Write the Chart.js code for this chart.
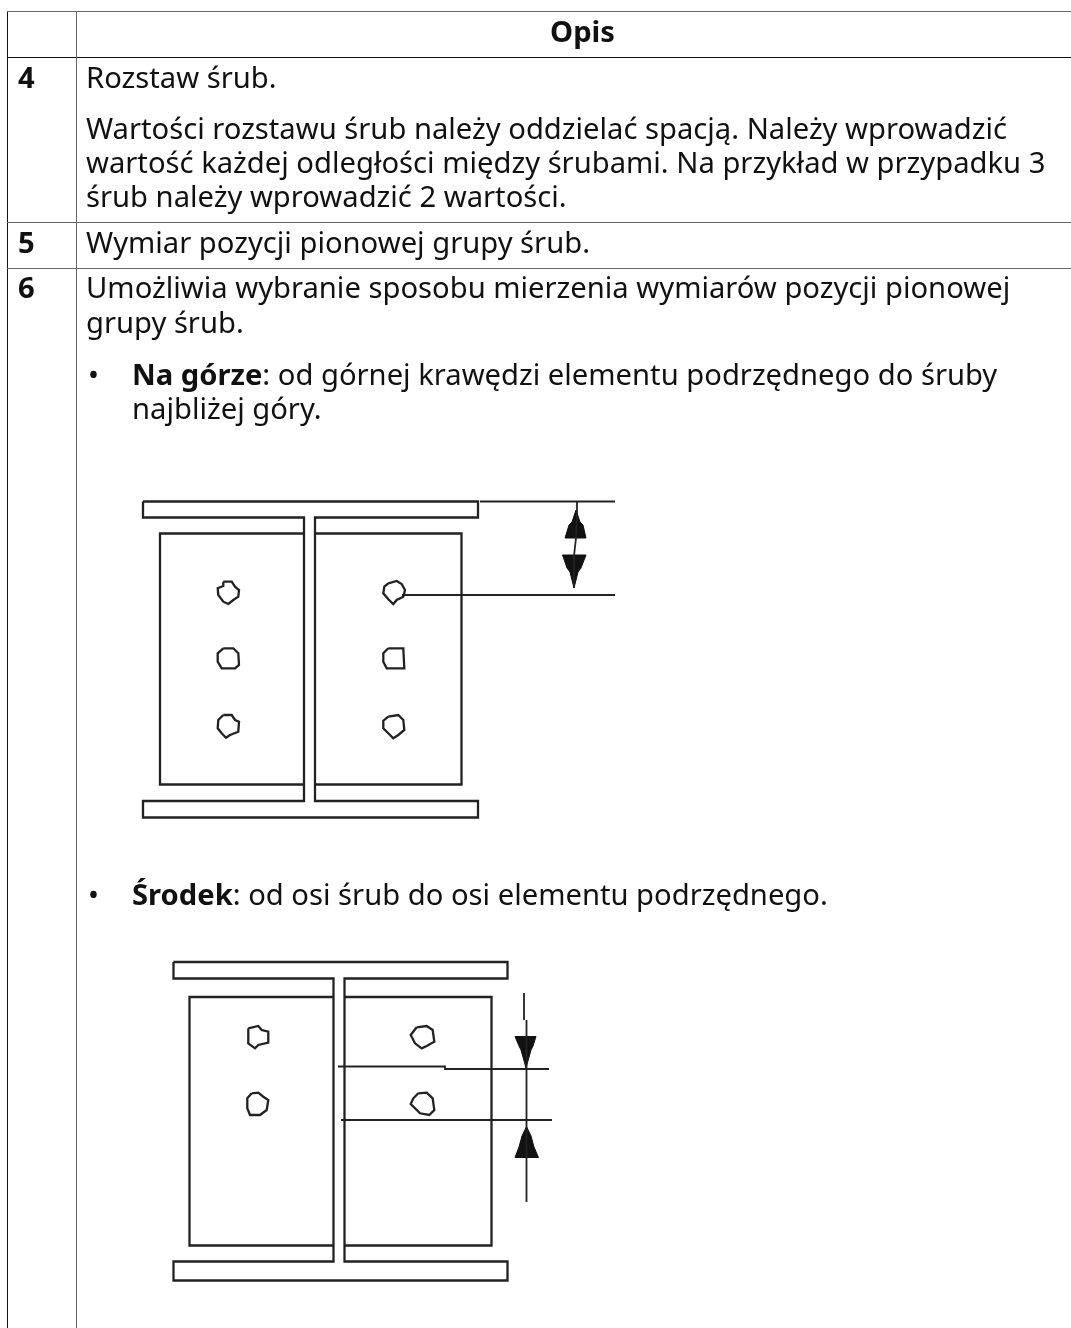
<!DOCTYPE html>
<html lang="pl">
<head>
<meta charset="utf-8">
<title>Opis</title>
<script src="https://cdn.jsdelivr.net/npm/chart.js@4/dist/chart.umd.min.js"></script>
<style>
  html, body { margin: 0; padding: 0; background: #fff; overflow: hidden; }
  canvas { display: block; }
</style>
</head>
<body>
<canvas id="rysunek" width="1071" height="1328"></canvas>
<script>
// --- tabela ---
const gridDark = [
  [[7, 57.5], [1071, 57.5]]
];
const gridGrey = [
  [[7, 11.5], [1071, 11.5]],
  [[7, 222.5], [1071, 222.5]],
  [[7, 268.5], [1071, 268.5]],
  [[76.5, 11.5], [76.5, 1328]]
];
const gridLeft = [[7.5, 11.5], [7.5, 1328]];

// --- rysunek 1 (Na górze) ---
const flangeTop1 = [[143, 501.5], [478, 501.5], [478, 517.5], [315, 517.5], [315, 801], [478, 801], [478, 817.5], [143, 817.5], [143, 801], [304, 801], [304, 517.5], [143, 517.5], [143, 501.5]];
const plateLeft1 = [[304, 533.5], [160, 533.5], [160, 784.5], [304, 784.5]];
const plateRight1 = [[315, 533.5], [461.5, 533.5], [461.5, 784.5], [315, 784.5]];
const dimTop1 = [[480, 501.5], [615, 501.5]];
const dimBottom1 = [[402, 595], [615, 595]];
const dimStem1 = [[577, 501.5], [577, 512], [576, 538], [574, 556], [574, 588]];
const arrowUp1 = [[576, 510], [580, 522], [583, 525], [586, 538], [565, 538], [569, 525], [572, 522], [576, 510]];
const arrowDown1 = [[562.5, 555], [586, 555], [581, 568], [578, 572], [574, 588], [570, 572], [567, 568], [562.5, 555]];
const holes1 = [
  [[223.3, 581.7], [231.7, 581.7], [235, 586.7], [239, 590], [238.3, 596.7], [233.3, 600], [228.3, 604], [223.3, 601.7], [218.3, 595], [217.7, 588.3], [223.3, 586], [223.3, 581.7]],
  [[388.3, 583.3], [396.7, 581], [401.7, 584], [405, 590], [403.3, 596.7], [396.7, 600], [393.3, 604], [388.3, 599.3], [383.3, 593.3], [384.3, 586.7], [388.3, 583.3]],
  [[223.3, 648.3], [233.3, 648.3], [238.3, 653.3], [239, 665], [235, 668.3], [221.7, 668.3], [217.7, 661.7], [217.7, 653.3], [223.3, 648.3]],
  [[388.3, 648.3], [403.3, 648.3], [404.3, 668.3], [386.7, 668.3], [383.3, 661.7], [383.3, 653.3], [388.3, 648.3]],
  [[223.3, 715], [231.7, 715], [235, 720], [239, 721.7], [238.3, 731.7], [230, 735], [226, 737.7], [221.7, 733.3], [217.7, 728.3], [218.3, 720], [223.3, 715]],
  [[388.3, 716.7], [398.3, 715], [403.3, 720], [404.3, 730], [398.3, 735], [393.3, 738.3], [388.3, 733.3], [383.3, 728.3], [383.3, 720.7], [388.3, 716.7]]
];

// --- rysunek 2 (Środek) ---
const flangeTop2 = [[173.5, 962], [507.5, 962], [507.5, 978.5], [344.5, 978.5], [344.5, 1261.5], [507.5, 1261.5], [507.5, 1280.5], [173.5, 1280.5], [173.5, 1261.5], [333.5, 1261.5], [333.5, 978.5], [173.5, 978.5], [173.5, 962]];
const plateLeft2 = [[333.5, 997], [189.5, 997], [189.5, 1245.5], [333.5, 1245.5]];
const plateRight2 = [[344.5, 997], [491.5, 997], [491.5, 1245.5], [344.5, 1245.5]];
const dimTop2 = [[338, 1066.5], [445, 1066.5], [445, 1069], [549, 1069]];
const dimBottom2 = [[341, 1120], [552, 1120]];
const dimStem2a = [[524, 993], [524, 1020]];
const dimStem2b = [[526.5, 1020], [526.5, 1202]];
const arrowDown2 = [[515, 1036.5], [536, 1036.5], [533, 1046], [531, 1050], [526, 1068], [521, 1050], [519, 1046], [515, 1036.5]];
const arrowUp2 = [[526.5, 1126.5], [531, 1136], [534, 1147], [538.5, 1157.5], [515, 1157.5], [519, 1147], [522, 1136], [526.5, 1126.5]];
const holes2 = [
  [[248.3, 1028.3], [258.3, 1026], [261.7, 1030], [268.3, 1031.7], [268.3, 1042.7], [258.3, 1045], [255, 1048.3], [248.3, 1043.3], [248.3, 1028.3]],
  [[416.7, 1027.3], [426.7, 1026], [432.7, 1030], [434.3, 1041.7], [426.7, 1046], [421.7, 1048.3], [415, 1043.3], [410.7, 1035], [416.7, 1027.3]],
  [[251.7, 1093.3], [258.3, 1092.7], [263.3, 1096.7], [268.3, 1100], [266.7, 1110], [260, 1115], [250, 1115], [247.3, 1108.3], [247.3, 1098.3], [251.7, 1093.3]],
  [[418.3, 1093.3], [426.7, 1092.7], [432.7, 1098.3], [434.3, 1110], [429.3, 1115], [420, 1113.3], [410.7, 1104], [413.3, 1098.3], [418.3, 1093.3]]
];

// --- teksty: [x, linia bazowa, [tekst, pogrubienie]...] ---
const textLines = [
  [582.5, 42, ["Opis", true]],
  [18, 88, ["4", true]],
  [86, 88, ["Rozstaw śrub.", false]],
  [86, 139, ["Wartości rozstawu śrub należy oddzielać spacją. Należy wprowadzić", false]],
  [86, 173, ["wartość każdej odległości między śrubami. Na przykład w przypadku 3", false]],
  [86, 207, ["śrub należy wprowadzić 2 wartości.", false]],
  [18, 253, ["5", true]],
  [86, 253, ["Wymiar pozycji pionowej grupy śrub.", false]],
  [18, 298, ["6", true]],
  [86, 298, ["Umożliwia wybranie sposobu mierzenia wymiarów pozycji pionowej", false]],
  [86, 333, ["grupy śrub.", false]],
  [88, 385, ["•", false]],
  [132, 385, ["Na górze", true], [": od górnej krawędzi elementu podrzędnego do śruby", false]],
  [132, 419, ["najbliżej góry.", false]],
  [88, 905, ["•", false]],
  [132, 905, ["Środek", true], [": od osi śrub do osi elementu podrzędnego.", false]]
];
const fontSize = 29.2;
const centeredText = "Opis";

const lineStyle = (pts, color, width) => ({
  data: pts.map(p => ({ x: p[0], y: p[1] })),
  borderColor: color,
  borderWidth: width,
  pointRadius: 0,
  showLine: true,
  tension: 0,
  fill: false
});
const arrowStyle = pts => ({
  ...lineStyle(pts, "#111", 1),
  backgroundColor: "#111",
  fill: "shape"
});

const drawing = [
  flangeTop1, plateLeft1, plateRight1, ...holes1,
  flangeTop2, plateLeft2, plateRight2, ...holes2
];
const dimensions = [dimTop1, dimBottom1, dimStem1, dimTop2, dimBottom2, dimStem2a, dimStem2b];
const arrows = [arrowUp1, arrowDown1, arrowDown2, arrowUp2];

const datasets = [
  ...gridGrey.map(l => lineStyle(l, "#666", 1)),
  ...gridDark.map(l => lineStyle(l, "#111", 1)),
  lineStyle(gridLeft, "#111", 1),
  ...drawing.map(l => lineStyle(l, "#222", 2.3)),
  ...dimensions.map(l => lineStyle(l, "#222", 1.8)),
  ...arrows.map(arrowStyle)
];

// napisy rysowane przez wtyczke, pozycje ze skal wykresu
const textPlugin = {
  id: "tekstTabeli",
  afterDatasetsDraw(chart) {
    const { ctx, scales } = chart;
    ctx.save();
    ctx.fillStyle = "#111";
    ctx.textBaseline = "alphabetic";
    for (const [x, y, ...parts] of textLines) {
      let px = scales.x.getPixelForValue(x);
      const py = scales.y.getPixelForValue(y);
      for (const [txt, bold] of parts) {
        ctx.font = `${bold ? "bold " : ""}${fontSize}px "Noto Sans"`;
        ctx.textAlign = txt === centeredText ? "center" : "left";
        ctx.fillText(txt, px, py);
        px += ctx.measureText(txt).width;
      }
    }
    ctx.restore();
  }
};
const whiteBg = {
  id: "tlo",
  beforeDraw(chart) {
    chart.ctx.save();
    chart.ctx.fillStyle = "#fff";
    chart.ctx.fillRect(0, 0, chart.width, chart.height);
    chart.ctx.restore();
  }
};

new Chart(document.getElementById("rysunek").getContext("2d"), {
  type: "scatter",
  data: { datasets },
  options: {
    responsive: false,
    animation: false,
    parsing: false,
    layout: { padding: 0 },
    scales: {
      x: { type: "linear", min: 0, max: 1071, display: false },
      y: { type: "linear", min: 0, max: 1328, reverse: true, display: false }
    },
    plugins: { legend: { display: false }, tooltip: { enabled: false } }
  },
  plugins: [whiteBg, textPlugin]
});
</script>
</body>
</html>
